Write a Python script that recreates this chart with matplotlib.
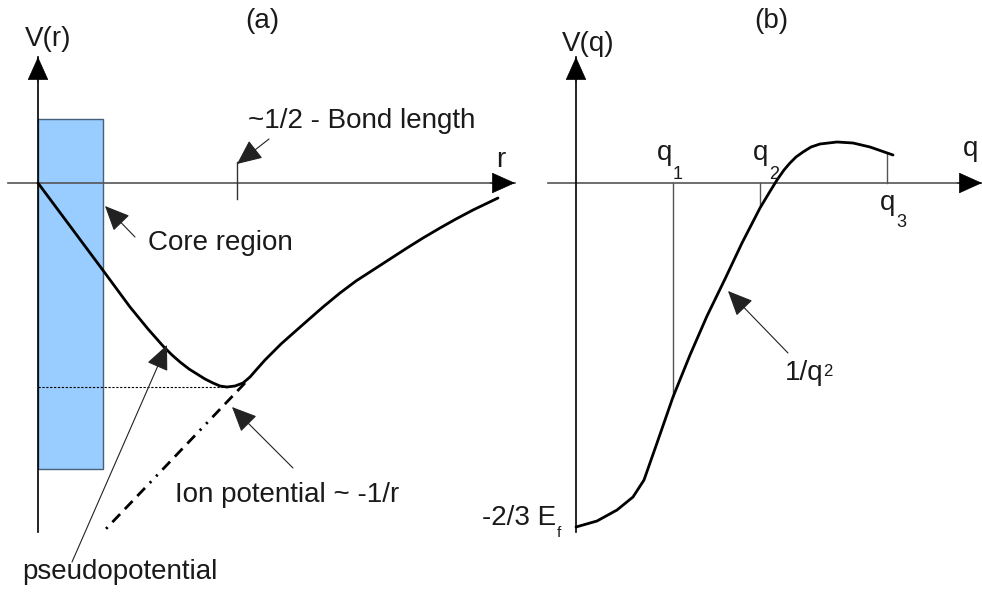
import matplotlib.pyplot as plt
from matplotlib.patches import Rectangle

plt.rcParams["font.family"] = ["Liberation Sans", "DejaVu Sans"]

# panel (a): real-space potential, units of r and V are arbitrary (origin at axis cross)
core_radius = 0.65
core_top, core_bottom = 0.64, -2.86
bond_r = 1.99
pseudo_r = [0.0, 0.32, 0.64, 0.92, 1.10, 1.25, 1.34, 1.42, 1.51, 1.59, 1.67, 1.75,
            1.82, 1.89, 1.97, 2.05, 2.12, 2.19, 2.27, 2.35, 2.43, 2.52, 2.69, 2.85, 3.02,
            3.18, 3.35, 3.52, 3.69, 3.85, 4.02, 4.18, 4.35, 4.60]
pseudo_v = [0.0, -0.43, -0.86, -1.24, -1.46, -1.63, -1.72, -1.79, -1.86, -1.91, -1.96, -2.00,
            -2.03, -2.04, -2.03, -2.00, -1.94, -1.86, -1.77, -1.69, -1.61, -1.53, -1.38, -1.24,
            -1.10, -0.98, -0.87, -0.76, -0.65, -0.55, -0.45, -0.36, -0.27, -0.15]
v_min = -2.04
r_min = 1.89
ion_r = [2.07, 0.65]
ion_v = [-2.00, -3.49]

# panel (b): Fourier transform of the pseudopotential
vq_q = [0.0, 0.21, 0.41, 0.57, 0.68, 0.81, 0.97, 1.14, 1.31, 1.49, 1.66, 1.84,
        1.93, 2.01, 2.08, 2.14, 2.20, 2.27, 2.35, 2.44, 2.61, 2.77, 2.94, 3.17]
vq_v = [-3.44, -3.38, -3.27, -3.14, -2.97, -2.60, -2.14, -1.72, -1.33, -0.96, -0.60, -0.25,
        -0.10, 0.03, 0.13, 0.20, 0.26, 0.31, 0.36, 0.39, 0.41, 0.40, 0.36, 0.28]
q_marks = [0.97, 1.84, 3.11]
q_mark_ends = [-2.14, -0.22, 0.29]

FS = 20
INK = "#1a1a1a"
HEAD = "-|>,head_length=0.6,head_width=0.27"


def arrow(ax, tail, tip, lw=0.8, color="#222222"):
    ax.annotate("", xy=tip, xytext=tail,
                arrowprops=dict(arrowstyle=HEAD, mutation_scale=26, lw=lw,
                                color=color, shrinkA=0, shrinkB=0))


def axis_arrow(ax, start, tip):
    ax.plot([start[0], tip[0]], [start[1], tip[1]], color=start[2], lw=1.2)
    # short black shaft so only the head is drawn on top
    dx, dy = tip[0] - start[0], tip[1] - start[1]
    n = (dx ** 2 + dy ** 2) ** 0.5
    back = (tip[0] - 0.25 * dx / n, tip[1] - 0.25 * dy / n)
    ax.annotate("", xy=tip, xytext=back,
                arrowprops=dict(arrowstyle=HEAD, mutation_scale=26, lw=0.5,
                                color="black", shrinkA=0, shrinkB=0))


def label_with_index(ax, x, y, main, idx, dy_pt, size=13, dx_pt=0.5):
    t = ax.text(x, y, main, fontsize=FS, color=INK, va="baseline", ha="left")
    ax.annotate(idx, xy=(1, 0), xycoords=t, xytext=(dx_pt, dy_pt),
                textcoords="offset points", fontsize=size, color=INK,
                va="baseline", ha="left")


def main():
    fig = plt.figure(figsize=(9.82, 5.94), dpi=100)
    ax_a = fig.add_axes([0, 0, 1, 1])
    ax_b = fig.add_axes([0, 0, 1, 1])
    ax_a.set_xlim(-0.38, 9.44)
    ax_a.set_ylim(-4.11, 1.83)
    ax_b.set_xlim(-5.76, 4.06)
    ax_b.set_ylim(-4.11, 1.83)
    for ax in (ax_a, ax_b):
        ax.set_axis_off()
        ax.patch.set_visible(False)

    # ---- (a) ----
    ax = ax_a
    ax.add_patch(Rectangle((0, core_bottom), core_radius, core_top - core_bottom,
                           facecolor="#99ccff", edgecolor="#44607a", lw=1.0, zorder=1))
    axis_arrow(ax, (-0.30, 0, "#555555"), (4.77, 0))
    axis_arrow(ax, (0, -3.49, "black"), (0, 1.26))
    ax.plot([bond_r, bond_r], [0.21, -0.16], color="#333333", lw=1.0)
    ax.plot([0, r_min], [v_min, v_min], color="black", lw=0.8, ls=(0, (2, 1.5)))
    ax.plot(ion_r, ion_v, color="black", lw=2.0,
            ls=(0, (4, 2.5, 4, 2.5, 4, 2.5, 0.8, 2.5, 0.8, 2.5)))
    ax.plot(pseudo_r, pseudo_v, color="black", lw=2.0, solid_capstyle="round",
            solid_joinstyle="round", zorder=3)

    arrow(ax, (2.31, 0.44), (1.99, 0.19))
    arrow(ax, (0.97, -0.54), (0.67, -0.23))
    arrow(ax, (2.55, -2.85), (1.94, -2.24))
    arrow(ax, (0.34, -3.79), (1.29, -1.62))

    ax.text(-0.13, 1.37, "V(r)", fontsize=FS, color=INK, va="baseline")
    ax.text(2.24, 1.55, "(a)", fontsize=FS, color=INK, va="baseline", ha="center")
    ax.text(4.58, 0.16, "r", fontsize=FS, color=INK, va="baseline")
    ax.text(2.10, 0.55, "~1/2 - Bond length", fontsize=FS, color=INK, va="baseline")
    ax.text(1.10, -0.67, "Core region", fontsize=FS, color=INK, va="baseline")
    ax.text(1.37, -3.19, "Ion potential ~ -1/r", fontsize=FS, color=INK, va="baseline")
    ax.text(-0.16, -3.96, "pseudopotential", fontsize=FS, color=INK, va="baseline")

    # ---- (b) ----
    ax = ax_b
    axis_arrow(ax, (-0.28, 0, "#555555"), (4.06, 0))
    axis_arrow(ax, (0, -3.49, "black"), (0, 1.26))
    for qm, end in zip(q_marks, q_mark_ends):
        ax.plot([qm, qm], [0, end], color="#555555", lw=1.0)
    ax.plot(vq_q, vq_v, color="black", lw=2.0, solid_capstyle="round",
            solid_joinstyle="round", zorder=3)
    arrow(ax, (2.12, -1.70), (1.52, -1.08))

    ax.text(-0.14, 1.32, "V(q)", fontsize=FS, color=INK, va="baseline")
    ax.text(1.95, 1.55, "(b)", fontsize=FS, color=INK, va="baseline", ha="center")
    ax.text(3.87, 0.27, "q", fontsize=FS, color=INK, va="baseline")
    label_with_index(ax, 0.81, 0.23, "q", "1", -9.5)
    label_with_index(ax, 1.77, 0.23, "q", "2", -9.5)
    label_with_index(ax, 3.04, -0.27, "q", "3", -8)
    label_with_index(ax, 2.09, -1.97, "1/q", "2", 7.5, size=12, dx_pt=0)
    label_with_index(ax, -0.94, -3.42, "-2/3 E", "f", -4, size=11)

    fig.savefig("out.png", dpi=100)


if __name__ == "__main__":
    main()
